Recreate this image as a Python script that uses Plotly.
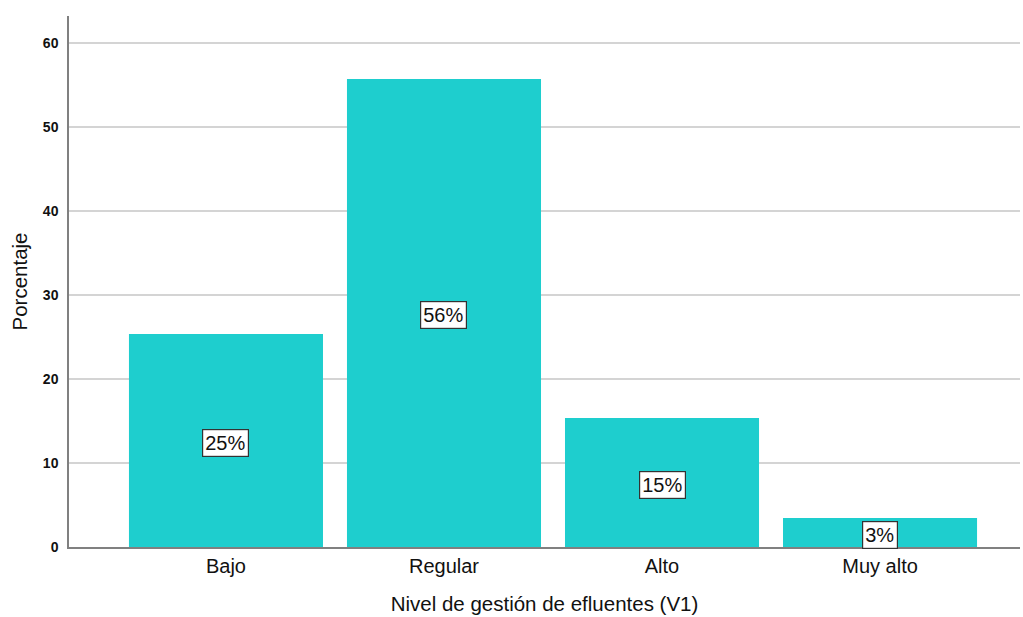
import plotly.graph_objects as go

categories = ["Bajo", "Regular", "Alto", "Muy alto"]
percent = [25.36, 55.71, 15.36, 3.45]
y_ticks = [0, 10, 20, 30, 40, 50, 60]

bar_color = "#1ECECE"
font_family = "Liberation Sans, Arial, sans-serif"

fig = go.Figure()
fig.add_trace(go.Bar(
    x=categories,
    y=percent,
    width=0.89,
    marker=dict(color=bar_color, line=dict(width=0)),
    hoverinfo="skip",
))

# Percentage labels in boxed tags at the middle of each bar
for cat, val in zip(categories, percent):
    fig.add_annotation(
        x=cat, y=val / 2,
        yshift=-2.5,
        text=f"{round(val)}%",
        showarrow=False,
        font=dict(family=font_family, size=20, color="#111111"),
        bgcolor="white",
        bordercolor="#333333",
        borderwidth=1.2,
        borderpad=2,
    )

fig.update_layout(
    width=1023, height=617,
    margin=dict(l=69, r=3, t=16, b=70),
    paper_bgcolor="white",
    plot_bgcolor="white",
    showlegend=False,
    font=dict(family=font_family, color="#111111"),
    xaxis=dict(
        type="category",
        range=[-0.72, 3.642],
        showgrid=False,
        showline=True,
        linecolor="#808080",
        linewidth=1.5,
        ticks="",
        tickfont=dict(size=20, family=font_family),
        title=dict(text="Nivel de gestión de efluentes (V1)",
                   font=dict(size=20.5, family=font_family), standoff=21),
    ),
    yaxis=dict(
        range=[0, 63.2],
        tickvals=y_ticks,
        ticktext=[f"<b>{t}</b>" for t in y_ticks],
        showgrid=True,
        gridcolor="#d4d4d4",
        gridwidth=1.5,
        showline=True,
        linecolor="#808080",
        linewidth=1.5,
        ticks="",
        zeroline=False,
        tickfont=dict(size=14, family=font_family),
        ticklabelstandoff=6,
        title=dict(text="Porcentaje", font=dict(size=20.5, family=font_family), standoff=10),
    ),
)

fig.write_html("out.html")
